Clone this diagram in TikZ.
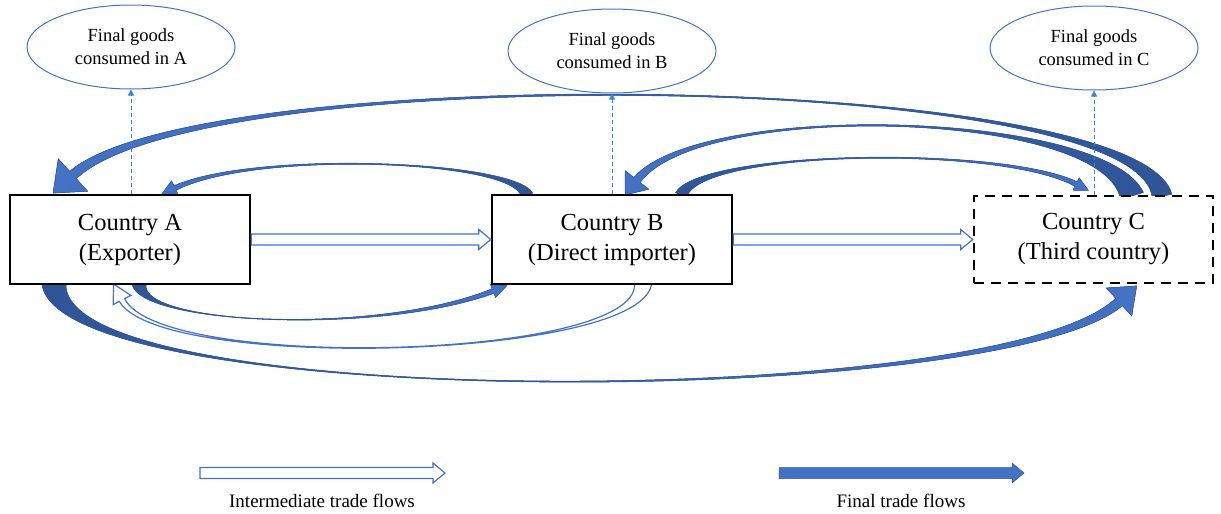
\documentclass[tikz,border=0pt]{standalone}
\usepackage{fontspec}
\setmainfont{Liberation Serif}
\usetikzlibrary{calc,shapes.geometric,arrows.meta}
\definecolor{flowblue}{HTML}{4472C4}
\definecolor{flowdark}{HTML}{2F5597}
\definecolor{flowedge}{HTML}{2F528F}
\pgfdeclarelayer{bg}
\pgfsetlayers{bg,main}

% Tapered curved ribbon with a triangular head.
% #1 tail centre, #2 #3 control points, #4 neck centre,
% #5 tail half width, #6 offset at the controls, #7 neck half width,
% #8 head length, #9 head half width
\newcommand\ribbon[9]{%
  ($(#1)!#5!90:(#2)$)
  .. controls ($(#2)!#6!-90:(#1)$) and ($(#3)!#6!90:(#4)$) .. ($(#4)!#7!-90:(#3)$)
  -- ($(#4)!#9!-90:(#3)$) -- ($(#4)!-#8!(#3)$) -- ($(#4)!#9!90:(#3)$)
  -- ($(#4)!#7!90:(#3)$)
  .. controls ($(#3)!#6!-90:(#4)$) and ($(#2)!#6!90:(#1)$) .. ($(#1)!#5!-90:(#2)$)
  -- cycle}

% Straight horizontal block arrow from #1 to #2
\newcommand\flatarrow[2]{%
  ($(#1)+(0,-5.5)$) -- ($(#2)+(-12,-5.5)$) -- ($(#2)+(-12,-10)$) -- (#2)
  -- ($(#2)+(-12,10)$) -- ($(#2)+(-12,5.5)$) -- ($(#1)+(0,5.5)$) -- cycle}

\begin{document}
\begin{tikzpicture}[x=1pt,y=-1pt,
  country/.style={draw=black, line width=2.5pt, fill=white,
    minimum width=240pt, minimum height=89pt, inner sep=0pt,
    align=center, font=\fontsize{24.5}{30}\selectfont},
  third/.style={country, dash pattern=on 10pt off 7pt,
    minimum width=239pt, minimum height=87pt},
  goods/.style={ellipse, draw=flowblue, line width=1pt, fill=white,
    minimum width=208pt, minimum height=84pt, inner sep=0pt,
    align=center, font=\fontsize{18.5}{23}\selectfont},
  consume/.style={draw=flowblue!85!cyan, line width=1pt, dash pattern=on 4pt off 3pt,
    -{Triangle[length=6pt,width=6pt]}},
  final/.style={fill=flowblue, draw=flowedge, line width=0.5pt, line join=round},
  tailright/.style={final, left color=flowblue, right color=flowdark},
  tailleft/.style={final, left color=flowdark, right color=flowblue},
  inter/.style={fill=white, draw=flowblue, line width=1.2pt, line join=miter},
  legend/.style={font=\fontsize{19}{23}\selectfont}]

\useasboundingbox (0,0) rectangle (1221,514);

% countries
\node[country] (A) at (130,239.5) {Country A\\(Exporter)};
\node[country] (B) at (612,239.5) {Country B\\(Direct importer)};
\node[country, third] (C) at (1093.5,239.5) {Country C\\(Third country)};

% final consumption
\node[goods] (eA) at (131,47) {Final goods\\consumed in A};
\node[goods] (eB) at (612,51) {Final goods\\consumed in B};
\node[goods] (eC) at (1094,48) {Final goods\\consumed in C};

\draw[consume] (A.north -| eA.south) -- (eA.south);
\draw[consume] (B.north -| eB.south) -- (eB.south);
\draw[consume] (C.north -| eC.south) -- (eC.south);

% ribbon end points
\coordinate (ab0) at (139,284);  \coordinate (ab3) at (493,291);
\coordinate (ba0) at (527,195);  \coordinate (ba3) at (175,188);
\coordinate (cb0) at (1132,196); \coordinate (cb3) at (637,180);
\coordinate (bc0) at (681,195);  \coordinate (bc3) at (1076,184);
\coordinate (ca0) at (1162,196); \coordinate (ca3) at (73,175);
\coordinate (ac0) at (54,284);   \coordinate (ac3) at (1119,302);
\coordinate (ib0) at (643,284);  \coordinate (ib3) at (122,300);

\begin{pgfonlayer}{bg}
  % final trade flows
  \path[tailleft]  \ribbon{ab0}{139,325}{380,335}{ab3}{7pt}{0pt}{2.5pt}{15pt}{7pt};
  \path[tailright] \ribbon{ba0}{515,160}{255,150}{ba3}{6pt}{0pt}{2.5pt}{15pt}{8pt};
  \path[tailright] \ribbon{cb0}{1105,110}{700,100}{cb3}{12pt}{0pt}{4pt}{19pt}{15pt};
  \path[tailleft]  \ribbon{bc0}{700,150}{1000,145}{bc3}{6pt}{0pt}{2.5pt}{14pt}{7pt};
  \path[tailright] \ribbon{ca0}{1140,70}{200,60}{ca3}{10pt}{0pt}{5pt}{27pt}{22pt};
  \path[tailleft]  \ribbon{ac0}{60,412}{1000,410}{ac3}{12pt}{0pt}{5pt}{24pt}{19pt};
  % intermediate flow back from B to A
  \path[inter] \ribbon{ib0}{640,360}{160,372}{ib3}{8.5pt}{0pt}{3pt}{18pt}{10pt};
\end{pgfonlayer}

% intermediate trade flows
\path[inter] \flatarrow{A.east}{B.west};
\path[inter] \flatarrow{B.east}{C.west};

% legend
\coordinate (li0) at (200,473); \coordinate (li1) at (445,473);
\coordinate (lf0) at (779,473); \coordinate (lf1) at (1024,473);
\path[inter] \flatarrow{li0}{li1};
\path[final] \flatarrow{lf0}{lf1};
\node[legend] (lti) at (322,501) {Intermediate trade flows};
\node[legend] (ltf) at (901,501) {Final trade flows};
\end{tikzpicture}
\end{document}
